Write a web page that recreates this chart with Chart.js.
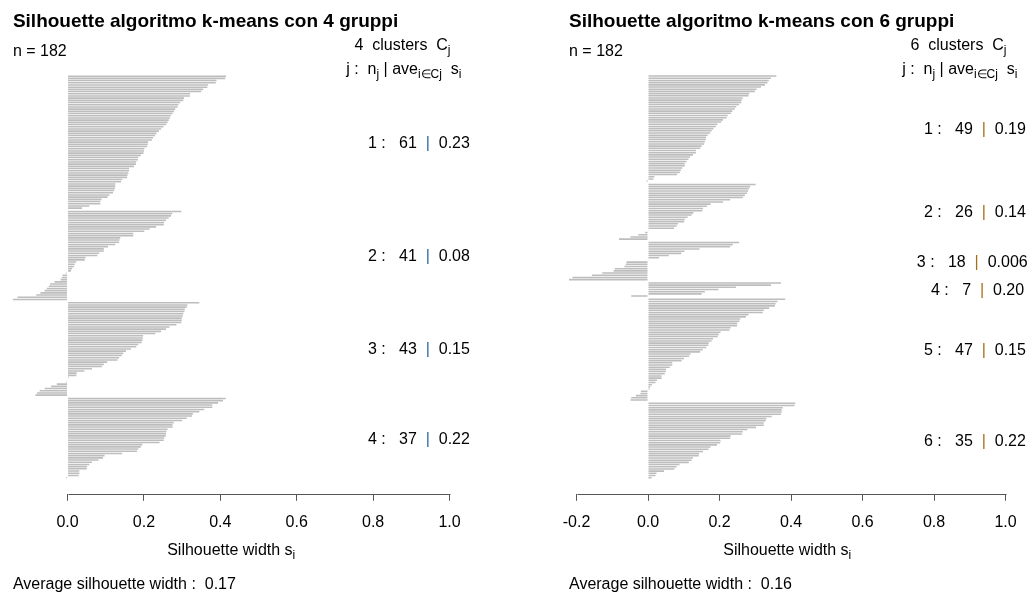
<!DOCTYPE html>
<html>
<head>
<meta charset="utf-8">
<script src="https://cdn.jsdelivr.net/npm/chart.js@4.4.1/dist/chart.umd.min.js"></script>
<style>
  body { margin: 0; background: #fff; }
  #wrap { position: relative; width: 1030px; height: 594px; }
  .panel { position: absolute; top: 0; width: 515px; height: 594px; }
</style>
</head>
<body>
<div id="wrap">
  <div class="panel" style="left:0"><canvas id="sil4" width="515" height="594"></canvas></div>
  <div class="panel" style="left:515px"><canvas id="sil6" width="515" height="594"></canvas></div>
</div>
<script>
// silhouette widths per cluster, sorted as in the plot (top to bottom)
const sil4_1 = [0.415, 0.413, 0.390, 0.388, 0.368, 0.366, 0.355, 0.350, 0.321, 0.320,
  0.305, 0.303, 0.295, 0.290, 0.288, 0.282, 0.279, 0.275, 0.270, 0.268,
  0.265, 0.262, 0.258, 0.251, 0.245, 0.239, 0.233, 0.229, 0.224, 0.221,
  0.211, 0.210, 0.208, 0.201, 0.200, 0.199, 0.192, 0.185, 0.184, 0.180,
  0.179, 0.174, 0.161, 0.161, 0.159, 0.157, 0.156, 0.143, 0.140, 0.125,
  0.125, 0.124, 0.122, 0.119, 0.110, 0.105, 0.089, 0.086, 0.086, 0.057, 0.038];
const sil4_2 = [0.298, 0.274, 0.271, 0.265, 0.258, 0.253, 0.252, 0.232, 0.215, 0.201,
  0.172, 0.172, 0.138, 0.136, 0.135, 0.125, 0.106, 0.095, 0.095, 0.083,
  0.078, 0.047, 0.045, 0.023, 0.019, 0.017, 0.012, 0.009, -0.003, -0.013,
  -0.015, -0.018, -0.034, -0.046, -0.049, -0.054, -0.060, -0.071, -0.082, -0.131, -0.143];
const sil4_3 = [0.345, 0.314, 0.312, 0.307, 0.306, 0.303, 0.302, 0.299, 0.299, 0.298,
  0.285, 0.267, 0.258, 0.245, 0.230, 0.198, 0.197, 0.196, 0.194, 0.185,
  0.180, 0.166, 0.153, 0.146, 0.142, 0.135, 0.131, 0.104, 0.095, 0.090,
  0.064, 0.044, 0.024, 0.023, 0.003, -0.001, -0.003, -0.028, -0.043, -0.060,
  -0.073, -0.080, -0.084];
const sil4_4 = [0.414, 0.407, 0.394, 0.379, 0.379, 0.358, 0.345, 0.328, 0.326, 0.312,
  0.300, 0.278, 0.275, 0.275, 0.262, 0.259, 0.258, 0.257, 0.253, 0.252,
  0.241, 0.196, 0.192, 0.185, 0.182, 0.143, 0.097, 0.093, 0.081, 0.064,
  0.057, 0.051, 0.050, 0.031, 0.031, 0.029, -0.003];

const sil6_1 = [0.359, 0.344, 0.338, 0.334, 0.327, 0.316, 0.304, 0.299, 0.283, 0.281,
  0.265, 0.262, 0.261, 0.255, 0.247, 0.243, 0.236, 0.232, 0.223, 0.220,
  0.210, 0.205, 0.194, 0.190, 0.183, 0.178, 0.174, 0.167, 0.162, 0.162,
  0.159, 0.157, 0.150, 0.146, 0.134, 0.134, 0.126, 0.118, 0.113, 0.108,
  0.103, 0.103, 0.096, 0.092, 0.089, 0.081, 0.018, 0.015, -0.004];
const sil6_2 = [0.301, 0.286, 0.282, 0.280, 0.277, 0.271, 0.265, 0.230, 0.210, 0.175,
  0.165, 0.154, 0.152, 0.127, 0.122, 0.111, 0.103, 0.101, 0.084, 0.080,
  0.073, 0.002, -0.008, -0.027, -0.049, -0.081];
const sil6_3 = [0.255, 0.237, 0.230, 0.144, 0.102, 0.093, 0.058, 0.031, 0.002,
  -0.060, -0.062, -0.066, -0.093, -0.096, -0.128, -0.157, -0.211, -0.221];
const sil6_4 = [0.372, 0.344, 0.246, 0.197, 0.159, 0.150, -0.047];
const sil6_5 = [0.384, 0.362, 0.357, 0.355, 0.339, 0.324, 0.321, 0.281, 0.274, 0.258,
  0.256, 0.250, 0.249, 0.231, 0.228, 0.203, 0.198, 0.195, 0.182, 0.178,
  0.170, 0.169, 0.163, 0.153, 0.146, 0.119, 0.115, 0.101, 0.094, 0.068,
  0.068, 0.061, 0.050, 0.050, 0.047, 0.038, 0.038, 0.025, 0.021, 0.011,
  0.006, 0.004, -0.020, -0.021, -0.034, -0.047, -0.049];
const sil6_6 = [0.412, 0.410, 0.377, 0.374, 0.374, 0.372, 0.346, 0.331, 0.329, 0.324,
  0.324, 0.302, 0.278, 0.265, 0.263, 0.231, 0.230, 0.203, 0.202, 0.193,
  0.175, 0.169, 0.154, 0.143, 0.142, 0.126, 0.122, 0.114, 0.088, 0.080,
  0.074, 0.045, 0.024, 0.021, 0.010];

const avg4 = ['0.23', '0.08', '0.15', '0.22'];
const avg6 = ['0.19', '0.14', '0.006', '0.20', '0.15', '0.22'];
const ticks4 = [0, 0.2, 0.4, 0.6, 0.8, 1.0];
const ticks6 = [-0.2, 0, 0.2, 0.4, 0.6, 0.8, 1.0];

const BODY = '16px "Liberation Sans", Arial, sans-serif';
const SUB = '12px "Liberation Sans", Arial, sans-serif';
const BOLD = 'bold 19px "Liberation Sans", Arial, sans-serif';

// draws a line of text made of parts (some as subscripts); anchor = share of width left of x
function drawRich(ctx, parts, x, y, anchor) {
  let w = 0;
  parts.forEach(p => {
    ctx.font = p.sub ? SUB : BODY;
    p.w = ctx.measureText(p.t).width;
    w += p.w;
  });
  let cx = x - anchor * w;
  parts.forEach(p => {
    ctx.font = p.sub ? SUB : BODY;
    ctx.fillStyle = p.c || '#000';
    ctx.fillText(p.t, cx, p.sub ? y + 4 : y);
    cx += p.w;
  });
}

const silText = {
  id: 'silText',
  afterDraw(chart, args, o) {
    const ctx = chart.ctx, xs = chart.scales.x, ys = chart.scales.y, ca = chart.chartArea;
    const left = xs.getPixelForValue(o.lo);
    const x1 = xs.getPixelForValue(1);
    ctx.save();
    ctx.textAlign = 'left';
    ctx.textBaseline = 'alphabetic';

    // axis line from first to last tick
    ctx.strokeStyle = '#555';
    ctx.lineWidth = 1;
    ctx.beginPath();
    ctx.moveTo(Math.round(xs.getPixelForValue(o.ticks[0])) + 0.5, Math.round(ca.bottom) + 0.5);
    ctx.lineTo(Math.round(x1) + 0.5, Math.round(ca.bottom) + 0.5);
    ctx.stroke();

    ctx.font = BOLD;
    ctx.fillStyle = '#000';
    ctx.fillText(o.title, left, 27);
    ctx.font = BODY;
    ctx.fillText('n = ' + o.n, left, 56);

    drawRich(ctx, [{t: o.k + '  clusters  C'}, {t: 'j', sub: true}], x1 + 1, 50, 1);
    drawRich(ctx, [{t: 'j :  n'}, {t: 'j', sub: true}, {t: ' | ave'}, {t: 'i\u2208Cj', sub: true},
      {t: '  s'}, {t: 'i', sub: true}], x1 + 12, 74, 1);

    o.mids.forEach((m, j) => {
      const y = ys.getPixelForValue(m) + 5.5;
      drawRich(ctx, [{t: (j + 1) + ' :   ' + o.sizes[j] + '  '}, {t: '|', c: o.barColor},
        {t: '  ' + o.avgs[j]}], x1, y, 0.8);
    });

    drawRich(ctx, [{t: 'Silhouette width s'}, {t: 'i', sub: true}], (left + x1) / 2, 555, 0.5);
    ctx.font = BODY;
    ctx.fillStyle = '#000';
    ctx.fillText('Average silhouette width :  ' + o.overall, left, 589);
    ctx.restore();
  }
};

function makeSil(id, clusters, avgs, tickVals, xMin, pad, title, overall, barColor) {
  const pts = [];
  const mids = [];
  let pos = 0;
  clusters.forEach(vals => {
    mids.push(pos + (vals.length - 1) / 2);
    vals.forEach(v => { pts.push({x: v, y: pos}); pos += 1; });
    pos += 0.5;
  });
  const last = pos - 1.5;
  const all = clusters.flat();
  const n = all.length;

  new Chart(document.getElementById(id), {
    type: 'bar',
    data: {
      datasets: [{
        data: pts,
        backgroundColor: '#bdbdbd',
        borderWidth: 0,
        categoryPercentage: 1,
        barPercentage: 0.72
      }]
    },
    options: {
      indexAxis: 'y',
      responsive: false,
      animation: false,
      devicePixelRatio: 1,
      layout: { padding: pad },
      scales: {
        y: { type: 'linear', reverse: true, offset: false, min: -7.35, max: last + 7.35, display: false },
        x: {
          type: 'linear', min: xMin, max: 1,
          afterBuildTicks: s => { s.ticks = tickVals.map(v => ({value: v})); },
          border: { display: false },
          grid: { drawOnChartArea: false, drawTicks: true, tickLength: 7, color: '#555' },
          ticks: {
            color: '#000', padding: 12,
            font: { family: '"Liberation Sans", Arial, sans-serif', size: 16 },
            callback: v => v.toFixed(1)
          }
        }
      },
      plugins: {
        legend: { display: false },
        tooltip: { enabled: false },
        silText: {
          title: title, n: n, k: clusters.length, lo: Math.min(...all),
          sizes: clusters.map(c => c.length), avgs: avgs, mids: mids,
          ticks: tickVals, overall: overall, barColor: barColor
        }
      }
    },
    plugins: [silText]
  });
}

makeSil('sil4', [sil4_1, sil4_2, sil4_3, sil4_4], avg4, ticks4, -0.17,
  {left: 2.6, right: 65.5, top: 60, bottom: 50},
  'Silhouette algoritmo k-means con 4 gruppi', '0.17', '#2d6aa3');
makeSil('sil6', [sil6_1, sil6_2, sil6_3, sil6_4, sil6_5, sil6_6], avg6, ticks6, -0.24,
  {left: 47.2, right: 24.5, top: 60, bottom: 50},
  'Silhouette algoritmo k-means con 6 gruppi', '0.16', '#a86d1c');
</script>
</body>
</html>
